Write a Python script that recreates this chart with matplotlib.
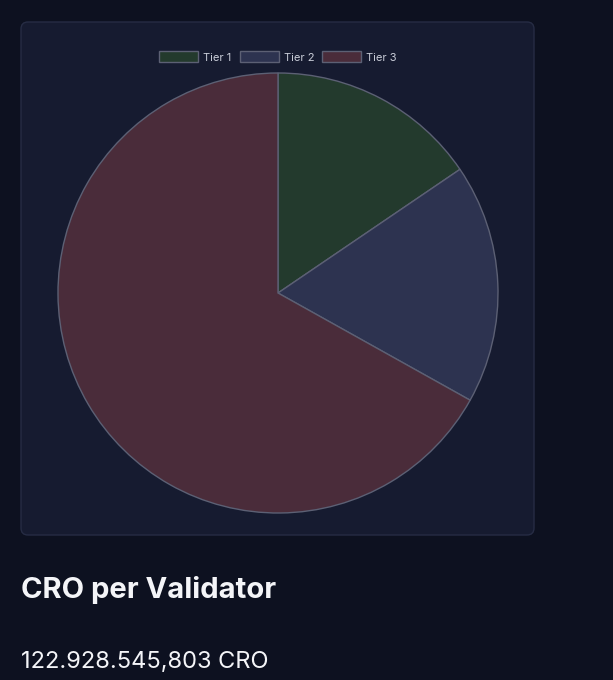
import matplotlib
matplotlib.use('Agg')
import matplotlib.pyplot as plt
from matplotlib.patches import FancyBboxPatch

plt.rcParams['font.family'] = ['Inter', 'DejaVu Sans']

# share of each tier
tiers   = ['Tier 1', 'Tier 2', 'Tier 3']
shares  = [15.5, 17.6, 66.9]
colours = ['#233a2d', '#2d3350', '#4a2c3a']

title = 'CRO per Validator'
value = '122.928.545,803 CRO'

W, H = 613, 680
fig = plt.figure(figsize=(W / 100, H / 100), dpi=100)
fig.patch.set_facecolor('#0d1120')

# background layer in pixel coords for the card
bg = fig.add_axes([0, 0, 1, 1])
bg.set_xlim(0, W); bg.set_ylim(H, 0); bg.axis('off')
card = FancyBboxPatch((21, 22), 513, 513, boxstyle='round,pad=0,rounding_size=7',
                      facecolor='#161b30', edgecolor='#262c44', linewidth=1)
bg.add_patch(card)

# pie
cx, cy, r = 278, 293, 220
ax = fig.add_axes([(cx - r) / W, (H - cy - r) / H, 2 * r / W, 2 * r / H])
wedges, _ = ax.pie(shares, colors=colours, startangle=90, counterclock=False,
                   radius=1, wedgeprops=dict(edgecolor='#5c6074', linewidth=1))
ax.set_xlim(-1.0, 1.0); ax.set_ylim(-1.0, 1.0)
ax.set_aspect('equal')
ax.axis('off')

leg = fig.legend(wedges, tiers, loc='center', bbox_to_anchor=(278 / W, 1 - 57 / H),
                 ncol=3, frameon=False, fontsize=8, handlelength=3.5, handleheight=1.1,
                 handletextpad=0.45, columnspacing=0.75, labelcolor='#c9cdd8')

fig.text(21 / W, 1 - 598 / H, title, fontsize=21, fontweight='bold', color='#f4f5f8',
         ha='left', va='baseline')
fig.text(21 / W, 1 - 668 / H, value, fontsize=17, color='#f4f5f8',
         ha='left', va='baseline')

fig.savefig('out.png', dpi=100, facecolor=fig.get_facecolor())
